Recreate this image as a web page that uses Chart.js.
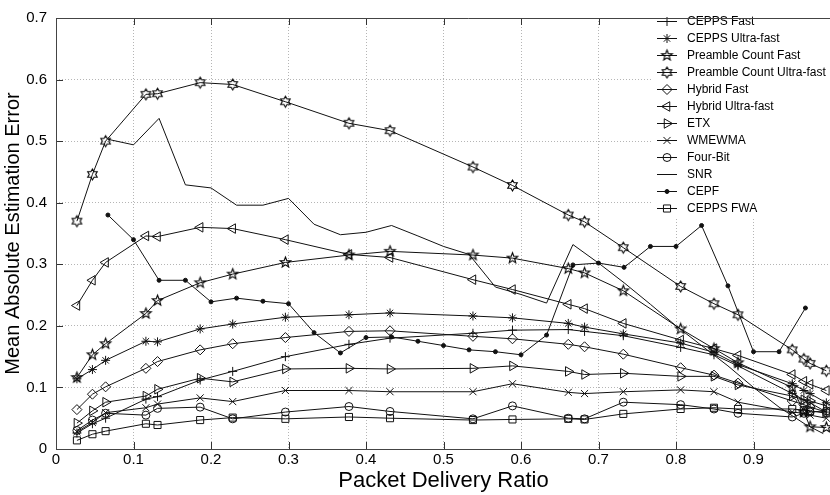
<!DOCTYPE html>
<html>
<head>
<meta charset="utf-8">
<script src="https://cdn.jsdelivr.net/npm/chart.js@4.4.1/dist/chart.umd.min.js"></script>
<style>
    html, body { margin: 0; padding: 0; background: #fff; overflow: hidden; }
    #wrap { width: 880px; height: 495px; }
</style>
</head>
<body>
<div id="wrap"><canvas id="chart" width="880" height="495"></canvas></div>
<script>
// packet delivery ratios where the estimators were sampled
const pdr = [0.027, 0.047, 0.064, 0.116, 0.131, 0.186, 0.228, 0.296, 0.378, 0.431, 0.538,
             0.589, 0.661, 0.682, 0.732, 0.806, 0.849, 0.880, 0.950, 0.965, 0.973, 0.994];
// CEPF and SNR were binned on a finer grid
const cepfPdr = [0.067, 0.100, 0.133, 0.167, 0.200, 0.233, 0.267, 0.300, 0.333, 0.367, 0.400, 0.433, 0.467, 0.500,
                 0.533, 0.567, 0.600, 0.633, 0.667, 0.700, 0.733, 0.767, 0.800, 0.833, 0.867, 0.900, 0.933, 0.967];
const snrPdr = [0.067, 0.100, 0.133, 0.167, 0.200, 0.233, 0.267, 0.300, 0.333, 0.367, 0.400, 0.433, 0.467, 0.500,
                0.533, 0.567, 0.600, 0.633, 0.667, 0.700, 0.733, 0.767, 0.800, 0.833, 0.867, 0.900, 0.933, 0.967, 0.990];

const ceppsFast     = [0.026, 0.041, 0.050, 0.081, 0.085, 0.112, 0.126, 0.150, 0.170, 0.180, 0.188, 0.193, 0.194, 0.191, 0.184, 0.165, 0.153, 0.135, 0.090, 0.080, 0.075, 0.060];
const ceppsUltra    = [0.114, 0.129, 0.144, 0.175, 0.174, 0.195, 0.203, 0.214, 0.218, 0.221, 0.216, 0.213, 0.204, 0.198, 0.187, 0.172, 0.157, 0.137, 0.106, 0.095, 0.090, 0.075];
const preambleFast  = [0.116, 0.153, 0.171, 0.220, 0.241, 0.270, 0.284, 0.303, 0.315, 0.321, 0.315, 0.310, 0.293, 0.286, 0.257, 0.195, 0.163, 0.140, 0.100, 0.060, 0.036, 0.035];
const preambleUltra = [0.370, 0.446, 0.500, 0.576, 0.577, 0.595, 0.592, 0.564, 0.529, 0.517, 0.458, 0.428, 0.380, 0.369, 0.327, 0.264, 0.236, 0.218, 0.161, 0.146, 0.139, 0.127];
const hybridFast    = [0.064, 0.089, 0.101, 0.131, 0.142, 0.161, 0.171, 0.181, 0.191, 0.192, 0.183, 0.179, 0.170, 0.166, 0.154, 0.132, 0.120, 0.107, 0.078, 0.072, 0.068, 0.060];
const hybridUltra   = [0.233, 0.274, 0.303, 0.346, 0.345, 0.360, 0.358, 0.340, 0.316, 0.311, 0.275, 0.259, 0.235, 0.228, 0.204, 0.177, 0.163, 0.152, 0.121, 0.110, 0.105, 0.095];
const etx           = [0.042, 0.062, 0.076, 0.086, 0.097, 0.115, 0.109, 0.130, 0.131, 0.130, 0.131, 0.135, 0.126, 0.121, 0.123, 0.118, 0.118, 0.104, 0.086, 0.080, 0.078, 0.070];
const wmewma        = [0.028, 0.043, 0.059, 0.067, 0.073, 0.083, 0.077, 0.095, 0.095, 0.093, 0.093, 0.106, 0.092, 0.090, 0.093, 0.096, 0.093, 0.076, 0.060, 0.058, 0.055, 0.050];
const fourBit       = [0.030, 0.047, 0.058, 0.055, 0.066, 0.068, 0.049, 0.060, 0.069, 0.061, 0.049, 0.070, 0.050, 0.049, 0.076, 0.072, 0.065, 0.058, 0.052, 0.058, 0.060, 0.062];
const ceppsFwa      = [0.014, 0.024, 0.029, 0.041, 0.039, 0.047, 0.051, 0.049, 0.052, 0.050, 0.047, 0.048, 0.049, 0.048, 0.057, 0.065, 0.067, 0.065, 0.065, 0.063, 0.062, 0.058];
const cepf = [0.380, 0.340, 0.274, 0.274, 0.239, 0.245, 0.240, 0.236, 0.189, 0.156, 0.181, 0.182, 0.175, 0.168,
              0.161, 0.158, 0.153, 0.185, 0.299, 0.302, 0.295, 0.329, 0.329, 0.363, 0.265, 0.158, 0.158, 0.229];
const snr  = [0.503, 0.494, 0.537, 0.429, 0.424, 0.396, 0.396, 0.407, 0.365, 0.348, 0.352, 0.363, 0.346, 0.329,
              0.316, 0.263, 0.251, 0.237, 0.332, 0.302, 0.270, 0.235, 0.200, 0.168, 0.135, 0.100, 0.068, 0.040, 0.025];

const xTicks = [0, 0.1, 0.2, 0.3, 0.4, 0.5, 0.6, 0.7, 0.8, 0.9, 1];
const yTicks = [0, 0.1, 0.2, 0.3, 0.4, 0.5, 0.6, 0.7];

const INK = '#111';

// outlined star markers (pentagram / hexagram) drawn once into small canvases
function starMarker(points, outer, inner) {
    const c = document.createElement('canvas');
    c.width = 15; c.height = 15;
    const g = c.getContext('2d');
    g.strokeStyle = '#000';
    g.lineWidth = 1.1;
    g.beginPath();
    for (let i = 0; i < points * 2; i++) {
        const r = i % 2 ? inner : outer;
        const a = -Math.PI / 2 + i * Math.PI / points;
        const px = 7.5 + r * Math.cos(a), py = 7.5 + r * Math.sin(a);
        if (i === 0) g.moveTo(px, py); else g.lineTo(px, py);
    }
    g.closePath();
    g.stroke();
    return c;
}
const pentagram = starMarker(5, 5.5, 2.3);
const hexagram = starMarker(6, 5.5, 3.2);

function series(label, xs, ys, marker) {
    return {
        label,
        data: xs.map((x, i) => ({ x, y: ys[i] })),
        borderColor: INK,
        borderWidth: 1,
        pointStyle: marker.style,
        pointRadius: marker.radius,
        pointRotation: marker.rotation || 0,
        pointBorderColor: INK,
        pointBorderWidth: 1,
        pointBackgroundColor: marker.fill || 'rgba(0,0,0,0)',
        tension: 0,
        fill: false
    };
}

const markers = {
    plus:     { style: 'cross', radius: 4.5 },
    asterisk: { style: 'star', radius: 4.5 },
    penta:    { style: pentagram, radius: 5 },
    hexa:     { style: hexagram, radius: 5 },
    diamond:  { style: 'rectRot', radius: 5 },
    left:     { style: 'triangle', radius: 5.5, rotation: -90 },
    right:    { style: 'triangle', radius: 5.5, rotation: 90 },
    cross:    { style: 'crossRot', radius: 5 },
    circle:   { style: 'circle', radius: 4 },
    none:     { style: false, radius: 0 },
    dot:      { style: 'circle', radius: 2, fill: INK },
    square:   { style: 'rect', radius: 5 }
};

const datasets = [
    series('CEPPS Fast', pdr, ceppsFast, markers.plus),
    series('CEPPS Ultra-fast', pdr, ceppsUltra, markers.asterisk),
    series('Preamble Count Fast', pdr, preambleFast, markers.penta),
    series('Preamble Count Ultra-fast', pdr, preambleUltra, markers.hexa),
    series('Hybrid Fast', pdr, hybridFast, markers.diamond),
    series('Hybrid Ultra-fast', pdr, hybridUltra, markers.left),
    series('ETX', pdr, etx, markers.right),
    series('WMEWMA', pdr, wmewma, markers.cross),
    series('Four-Bit', pdr, fourBit, markers.circle),
    series('SNR', snrPdr, snr, markers.none),
    series('CEPF', cepfPdr, cepf, markers.dot),
    series('CEPPS FWA', pdr, ceppsFwa, markers.square)
];

// inward tick marks, legend box and the axes frame
const framePlugin = {
    id: 'framePlugin',
    afterDatasetsDraw(chart) {
        const { ctx, chartArea: a, scales: { x, y } } = chart;
        ctx.save();
        ctx.strokeStyle = '#333';
        ctx.lineWidth = 1;
        ctx.beginPath();
        xTicks.forEach(v => {
            const px = Math.round(x.getPixelForValue(v)) + 0.5;
            ctx.moveTo(px, a.bottom); ctx.lineTo(px, a.bottom - 7);
            ctx.moveTo(px, a.top); ctx.lineTo(px, a.top + 7);
        });
        yTicks.forEach(v => {
            const py = Math.round(y.getPixelForValue(v)) + 0.5;
            ctx.moveTo(a.left, py); ctx.lineTo(a.left + 7, py);
        });
        ctx.stroke();

        // legend
        const lx = 653, ly = 11;
        ctx.fillStyle = '#fff';
        ctx.fillRect(lx, ly, chart.width - lx, 207);
        ctx.font = '12px "Liberation Sans", Arial, sans-serif';
        ctx.textBaseline = 'middle';
        datasets.forEach((ds, i) => {
            const rowY = Math.round(20.7 + i * 17.05) + 0.5;
            ctx.strokeStyle = INK;
            ctx.lineWidth = 1;
            ctx.beginPath();
            ctx.moveTo(657, rowY); ctx.lineTo(677, rowY);
            ctx.stroke();
            if (ds.pointStyle) {
                ctx.fillStyle = ds.pointBackgroundColor;
                Chart.helpers.drawPoint(ctx, {
                    pointStyle: ds.pointStyle,
                    radius: ds.pointRadius,
                    rotation: ds.pointRotation,
                    borderWidth: 1
                }, 667, rowY);
            }
            ctx.fillStyle = '#000';
            ctx.fillText(ds.label, 687, rowY);
        });

        // axes frame
        ctx.strokeStyle = '#444';
        ctx.beginPath();
        ctx.moveTo(a.left + 0.5, a.bottom + 0.5);
        ctx.lineTo(a.left + 0.5, a.top + 0.5);
        ctx.lineTo(chart.width, a.top + 0.5);
        ctx.moveTo(a.left, a.bottom + 0.5);
        ctx.lineTo(chart.width, a.bottom + 0.5);
        ctx.stroke();
        ctx.restore();
    }
};

const fontFamily = '"Liberation Sans", Arial, sans-serif';

new Chart(document.getElementById('chart'), {
    type: 'line',
    data: { datasets },
    options: {
        responsive: false,
        animation: false,
        layout: { padding: { left: 0, top: 10, right: 49, bottom: 0 } },
        plugins: { legend: { display: false }, tooltip: { enabled: false } },
        scales: {
            x: {
                type: 'linear',
                min: 0,
                max: 1,
                afterFit: s => { s.height = 46; },
                afterBuildTicks: s => { s.ticks = xTicks.map(v => ({ value: v })); },
                grid: { color: '#b5b5b5', lineWidth: 1, drawTicks: false },
                border: { display: false, dash: [1, 2] },
                ticks: {
                    font: { family: fontFamily, size: 15 },
                    color: '#000',
                    padding: 2,
                    maxRotation: 0,
                    autoSkip: false,
                    callback: v => v >= 1 ? '' : String(Math.round(v * 10) / 10)
                },
                title: {
                    display: true, text: 'Packet Delivery Ratio', color: '#000',
                    font: { family: fontFamily, size: 22 }, padding: { top: 0, bottom: 1 }
                }
            },
            y: {
                min: 0,
                max: 0.7,
                afterFit: s => { s.width = 56; },
                afterBuildTicks: s => { s.ticks = yTicks.map(v => ({ value: v })); },
                grid: { color: '#b5b5b5', lineWidth: 1, drawTicks: false },
                border: { display: false, dash: [1, 2] },
                ticks: {
                    font: { family: fontFamily, size: 15 },
                    color: '#000',
                    padding: 9,
                    autoSkip: false,
                    callback: v => String(Math.round(v * 10) / 10)
                },
                title: {
                    display: true, text: 'Mean Absolute Estimation Error', color: '#000',
                    font: { family: fontFamily, size: 20 }, padding: { top: 1, bottom: 0 }
                }
            }
        }
    },
    plugins: [framePlugin]
});
</script>
</body>
</html>
